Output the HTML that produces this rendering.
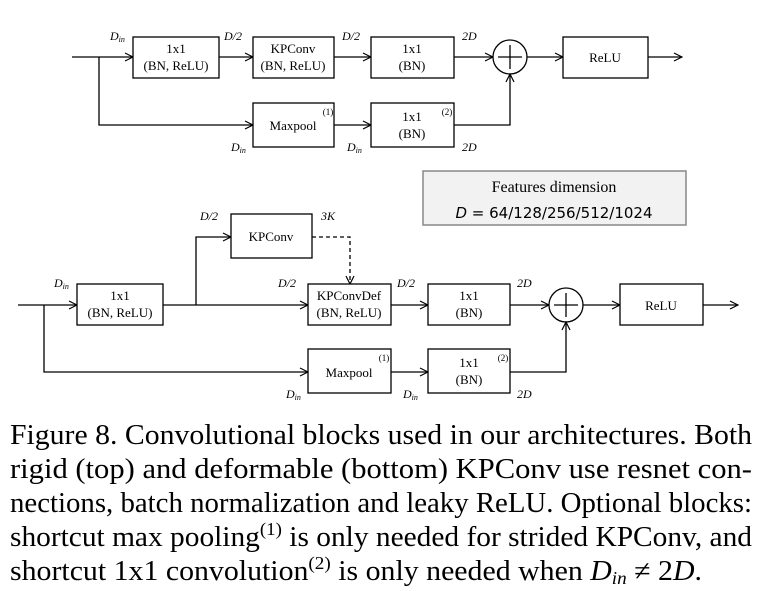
<!DOCTYPE html>
<html><head><meta charset="utf-8"><style>
html,body{margin:0;padding:0;background:#fff;}
svg{display:block;}
.b{fill:#fff;stroke:#000;stroke-width:1.3}
.t{font-family:"Liberation Serif",serif;font-size:13px;text-anchor:middle}
.l{font-family:"Liberation Serif",serif;font-size:12px;font-style:italic}
.ln{stroke:#000;stroke-width:1.3;fill:none}
.c{font-family:"Liberation Serif",serif;font-size:28px}
</style></head><body>
<svg width="763" height="591" viewBox="0 0 763 591" xmlns="http://www.w3.org/2000/svg">
<defs><marker id="a" markerWidth="10" markerHeight="10" refX="9" refY="5" orient="auto" markerUnits="userSpaceOnUse"><path d="M1,1 L9,5 L1,9" fill="none" stroke="#000" stroke-width="1.2"/></marker></defs>
<!-- TOP -->
<line class="ln" x1="72" y1="57" x2="133" y2="57" marker-end="url(#a)"/>
<rect class="b" x="133" y="37" width="86" height="41"/>
<text class="t" x="176" y="53">1x1</text><text class="t" x="176" y="70">(BN, ReLU)</text>
<line class="ln" x1="219" y1="57" x2="253" y2="57" marker-end="url(#a)"/>
<rect class="b" x="253" y="37" width="81" height="41"/>
<text class="t" x="293" y="53">KPConv</text><text class="t" x="293" y="70">(BN, ReLU)</text>
<line class="ln" x1="334" y1="57" x2="371" y2="57" marker-end="url(#a)"/>
<rect class="b" x="371" y="37" width="83" height="41"/>
<text class="t" x="412" y="53">1x1</text><text class="t" x="412" y="70">(BN)</text>
<line class="ln" x1="454" y1="57" x2="493" y2="57" marker-end="url(#a)"/>
<circle class="b" cx="510" cy="57" r="17"/>
<line class="ln" x1="498" y1="57" x2="522" y2="57" stroke-width="1.6"/><line class="ln" x1="510" y1="45" x2="510" y2="69" stroke-width="1.6"/>
<line class="ln" x1="527" y1="57" x2="563" y2="57" marker-end="url(#a)"/>
<rect class="b" x="563" y="37" width="85" height="41"/>
<text class="t" x="605" y="62">ReLU</text>
<line class="ln" x1="648" y1="57" x2="682" y2="57" marker-end="url(#a)"/>
<polyline class="ln" points="99,57 99,125 253,125" marker-end="url(#a)"/>
<rect class="b" x="253" y="103" width="81" height="44"/>
<text class="t" x="293" y="130">Maxpool</text><text class="t" x="328" y="115" style="font-size:9px">(1)</text>
<line class="ln" x1="334" y1="125" x2="371" y2="125" marker-end="url(#a)"/>
<rect class="b" x="371" y="103" width="83" height="44"/>
<text class="t" x="412" y="121">1x1</text><text class="t" x="412" y="138">(BN)</text><text class="t" x="447" y="115" style="font-size:9px">(2)</text>
<polyline class="ln" points="454,125 510,125 510,74" marker-end="url(#a)"/>
<text class="l" x="110" y="40">D<tspan font-size="8" dy="2">in</tspan></text>
<text class="l" x="224" y="40">D/2</text>
<text class="l" x="342" y="40">D/2</text>
<text class="l" x="462" y="40">2D</text>
<text class="l" x="231" y="151">D<tspan font-size="8" dy="2">in</tspan></text>
<text class="l" x="347" y="151">D<tspan font-size="8" dy="2">in</tspan></text>
<text class="l" x="462" y="151">2D</text>
<!-- Features box -->
<rect x="423" y="171" width="263" height="54" fill="#f2f2f2" stroke="#888" stroke-width="1.5"/>
<text class="t" x="554" y="192" style="font-size:16px">Features dimension</text>
<text x="554" y="218" style="font-family:'DejaVu Sans',sans-serif;font-size:15px;text-anchor:middle"><tspan font-style="italic">D</tspan> = 64/128/256/512/1024</text>
<!-- BOTTOM -->
<line class="ln" x1="18" y1="305" x2="77" y2="305" marker-end="url(#a)"/>
<rect class="b" x="77" y="284" width="86" height="41"/>
<text class="t" x="120" y="300">1x1</text><text class="t" x="120" y="317">(BN, ReLU)</text>
<line class="ln" x1="163" y1="305" x2="308" y2="305" marker-end="url(#a)"/>
<polyline class="ln" points="196,305 196,237 231,237" marker-end="url(#a)"/>
<rect class="b" x="231" y="214" width="81" height="44"/>
<text class="t" x="271" y="241">KPConv</text>
<polyline class="ln" points="312,237 350,237 350,284" stroke-dasharray="4,3" marker-end="url(#a)"/>
<rect class="b" x="308" y="284" width="83" height="41"/>
<text class="t" x="349" y="300">KPConvDef</text><text class="t" x="349" y="317">(BN, ReLU)</text>
<line class="ln" x1="391" y1="305" x2="428" y2="305" marker-end="url(#a)"/>
<rect class="b" x="428" y="284" width="82" height="41"/>
<text class="t" x="469" y="300">1x1</text><text class="t" x="469" y="317">(BN)</text>
<line class="ln" x1="510" y1="305" x2="549" y2="305" marker-end="url(#a)"/>
<circle class="b" cx="566" cy="305" r="17"/>
<line class="ln" x1="554" y1="305" x2="578" y2="305" stroke-width="1.6"/><line class="ln" x1="566" y1="293" x2="566" y2="317" stroke-width="1.6"/>
<line class="ln" x1="583" y1="305" x2="620" y2="305" marker-end="url(#a)"/>
<rect class="b" x="620" y="284" width="83" height="41"/>
<text class="t" x="661" y="310">ReLU</text>
<line class="ln" x1="703" y1="305" x2="738" y2="305" marker-end="url(#a)"/>
<polyline class="ln" points="44,305 44,372 308,372" marker-end="url(#a)"/>
<rect class="b" x="308" y="349" width="83" height="44"/>
<text class="t" x="349" y="377">Maxpool</text><text class="t" x="384" y="361" style="font-size:9px">(1)</text>
<line class="ln" x1="391" y1="372" x2="428" y2="372" marker-end="url(#a)"/>
<rect class="b" x="428" y="349" width="82" height="44"/>
<text class="t" x="469" y="367">1x1</text><text class="t" x="469" y="384">(BN)</text><text class="t" x="503" y="361" style="font-size:9px">(2)</text>
<polyline class="ln" points="510,372 566,372 566,322" marker-end="url(#a)"/>
<text class="l" x="200" y="220">D/2</text>
<text class="l" x="321" y="220">3K</text>
<text class="l" x="54" y="287">D<tspan font-size="8" dy="2">in</tspan></text>
<text class="l" x="278" y="287">D/2</text>
<text class="l" x="397" y="287">D/2</text>
<text class="l" x="517" y="287">2D</text>
<text class="l" x="286" y="398">D<tspan font-size="8" dy="2">in</tspan></text>
<text class="l" x="403" y="398">D<tspan font-size="8" dy="2">in</tspan></text>
<text class="l" x="517" y="398">2D</text>
<!-- Caption -->
<text class="c" x="10" y="444" textLength="742" lengthAdjust="spacingAndGlyphs">Figure 8. Convolutional blocks used in our architectures.  Both</text>
<text class="c" x="10" y="478" textLength="742" lengthAdjust="spacingAndGlyphs">rigid (top) and deformable (bottom) KPConv use resnet con-</text>
<text class="c" x="10" y="512" textLength="742" lengthAdjust="spacingAndGlyphs">nections, batch normalization and leaky ReLU. Optional blocks:</text>
<text class="c" x="10" y="546" textLength="742" lengthAdjust="spacingAndGlyphs">shortcut max pooling<tspan font-size="18" dy="-11">(1)</tspan><tspan dy="11"> is only needed for strided KPConv, and</tspan></text>
<text class="c" x="10" y="580" textLength="692" lengthAdjust="spacingAndGlyphs">shortcut 1x1 convolution<tspan font-size="18" dy="-11">(2)</tspan><tspan dy="11"> is only needed when </tspan><tspan font-style="italic">D</tspan><tspan font-style="italic" font-size="18" dy="4">in</tspan><tspan dy="-4"> ≠ 2</tspan><tspan font-style="italic">D</tspan>.</text>
</svg>
</body></html>
